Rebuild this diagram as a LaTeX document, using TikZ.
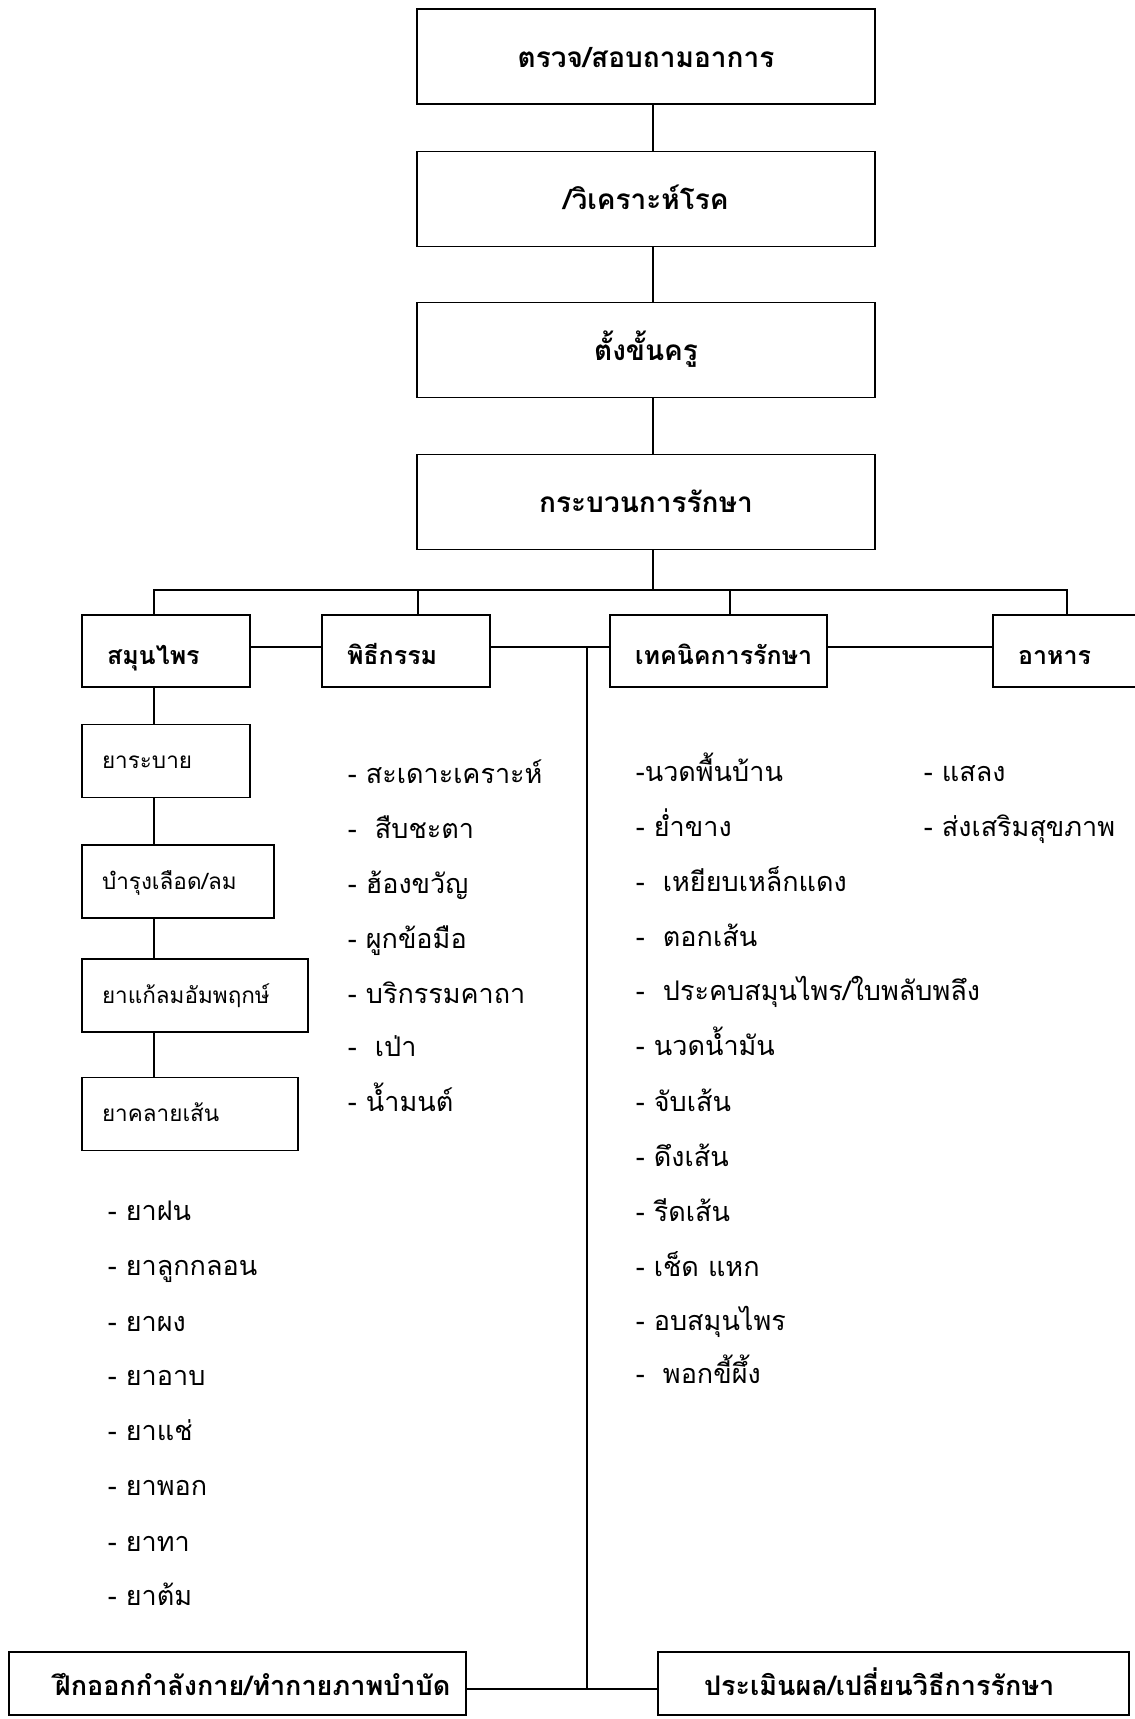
\documentclass[tikz,border=0pt]{standalone}
\usepackage{fontspec}
\newfontfamily\thai[Script=Thai]{Loma}
\begin{document}
\begin{tikzpicture}[x=1pt, y=-1pt, line width=1.6pt,
  boldtxt/.style={font=\thai\bfseries\fontsize{25}{30}\selectfont},
  bigbold/.style={font=\thai\bfseries\fontsize{28}{32}\selectfont},
  basebold/.style={font=\thai\bfseries\fontsize{27}{32}\selectfont},
  plaintxt/.style={font=\thai\fontsize{27}{31}\selectfont},
  smalltxt/.style={font=\thai\fontsize{22.5}{27}\selectfont},
  topbox/.style={draw, bigbold, minimum width=458pt, minimum height=95pt,
    inner sep=0pt, text height=26pt, text depth=5pt},
  tierbox/.style={draw, boldtxt, minimum height=72pt, inner xsep=25pt,
    inner ysep=0pt, align=left, text height=28pt, text depth=2pt},
  subbox/.style={draw, smalltxt, minimum height=73pt, inner xsep=20pt,
    inner ysep=0pt, align=left, text height=19pt, text depth=4pt},
  basebox/.style={draw, basebold, minimum height=63pt, inner xsep=46pt,
    inner ysep=0pt, align=left, text height=26pt, text depth=3pt},
  item/.style={plaintxt, anchor=base west, inner sep=0pt}]
\useasboundingbox (0,0) rectangle (1135,1719);

% main sequence
\node[topbox] (check)   at (646,56.5)  {ตรวจ/สอบถามอาการ};
\node[topbox] (diag)    at (646,199)   {/วิเคราะห์โรค};
\node[topbox] (teacher) at (646,350)   {ตั้งขั้นครู};
\node[topbox] (proc)    at (646,502)   {กระบวนการรักษา};

% treatment branches
\node[tierbox, text width=118pt] (herb) at (166,651)   {สมุนไพร};
\node[tierbox, text width=118pt] (rite) at (406,651)   {พิธีกรรม};
\node[tierbox, text width=167pt] (tech) at (718.5,651) {เทคนิคการรักษา};
\node[tierbox, text width=118pt] (food) at (1077,651)  {อาหาร};

% herbal medicine groups
\node[subbox, text width=128pt] (laxa)  at (166,761)    {ยาระบาย};
\node[subbox, text width=152pt] (tonic) at (178,881.5)  {บำรุงเลือด/ลม};
\node[subbox, text width=186pt] (palsy) at (195,995.5)  {ยาแก้ลมอัมพฤกษ์};
\node[subbox, text width=176pt] (relax) at (190,1114)   {ยาคลายเส้น};

% final stage
\node[basebox, text width=365pt] (exer) at (237.5,1683.5) {ฝึกออกกำลังกาย/ทำกายภาพบำบัด};
\node[basebox, text width=379pt] (eval) at (893.5,1683.5) {ประเมินผล/เปลี่ยนวิธีการรักษา};

% connector guides
\coordinate (spine) at (653,0);
\coordinate (busL) at (154,590);
\coordinate (busR) at (1067,590);
\coordinate (riteTap) at (418,0);
\coordinate (techTap) at (730,0);
\coordinate (mid) at (0,647);
\coordinate (trunk) at (587,647);
\coordinate (low) at (0,1689);

% main sequence links
\draw (check.south -| spine) -- (diag.north -| spine);
\draw (diag.south -| spine) -- (teacher.north -| spine);
\draw (teacher.south -| spine) -- (proc.north -| spine);
\draw (proc.south -| spine) -- (spine |- busL);

% bus to branches
\draw (herb.north -| busL) |- (busR) -- (food.north -| busR);
\draw (rite.north -| riteTap) -- (riteTap |- busL);
\draw (tech.north -| techTap) -- (techTap |- busL);

% links between branches
\draw (herb.east |- mid) -- (rite.west |- mid);
\draw (rite.east |- mid) -- (tech.west |- mid);
\draw (tech.east |- mid) -- (food.west |- mid);

% trunk to the final stage
\draw (trunk) -- (trunk |- low);
\draw (exer.east |- low) -- (eval.west |- low);

% herbal chain
\draw (herb.south -| busL) -- (laxa.north -| busL);
\draw (laxa.south -| busL) -- (tonic.north -| busL);
\draw (tonic.south -| busL) -- (palsy.north -| busL);
\draw (palsy.south -| busL) -- (relax.north -| busL);

% ritual items
\node[item] (r1) at (347,783) {- สะเดาะเคราะห์};
\node[item] (r2) at (347,838) {-\ \ สืบชะตา};
\node[item] (r3) at (347,893) {- ฮ้องขวัญ};
\node[item] (r4) at (347,948) {- ผูกข้อมือ};
\node[item] (r5) at (347,1003) {- บริกรรมคาถา};
\node[item] (r6) at (347,1056) {-\ \ เป่า};
\node[item] (r7) at (347,1111) {- น้ำมนต์};

% technique items
\node[item] (t1)  at (635,781)  {-นวดพื้นบ้าน};
\node[item] (t2)  at (635,836)  {- ย่ำขาง};
\node[item] (t3)  at (635,891)  {-\ \ เหยียบเหล็กแดง};
\node[item] (t4)  at (635,946)  {-\ \ ตอกเส้น};
\node[item] (t5)  at (635,1000) {-\ \ ประคบสมุนไพร/ใบพลับพลึง};
\node[item] (t6)  at (635,1055) {- นวดน้ำมัน};
\node[item] (t7)  at (635,1111) {- จับเส้น};
\node[item] (t8)  at (635,1166) {- ดึงเส้น};
\node[item] (t9)  at (635,1221) {- รีดเส้น};
\node[item] (t10) at (635,1276) {- เช็ด แหก};
\node[item] (t11) at (635,1330) {- อบสมุนไพร};
\node[item] (t12) at (635,1383) {-\ \ พอกขี้ผึ้ง};

% food items
\node[item] (f1) at (923,781) {- แสลง};
\node[item] (f2) at (923,836) {- ส่งเสริมสุขภาพ};

% herbal preparations
\node[item] (h1) at (107,1220) {- ยาฝน};
\node[item] (h2) at (107,1275) {- ยาลูกกลอน};
\node[item] (h3) at (107,1331) {- ยาผง};
\node[item] (h4) at (107,1385) {- ยาอาบ};
\node[item] (h5) at (107,1440) {- ยาแช่};
\node[item] (h6) at (107,1495) {- ยาพอก};
\node[item] (h7) at (107,1551) {- ยาทา};
\node[item] (h8) at (107,1605) {- ยาต้ม};
\end{tikzpicture}
\end{document}
